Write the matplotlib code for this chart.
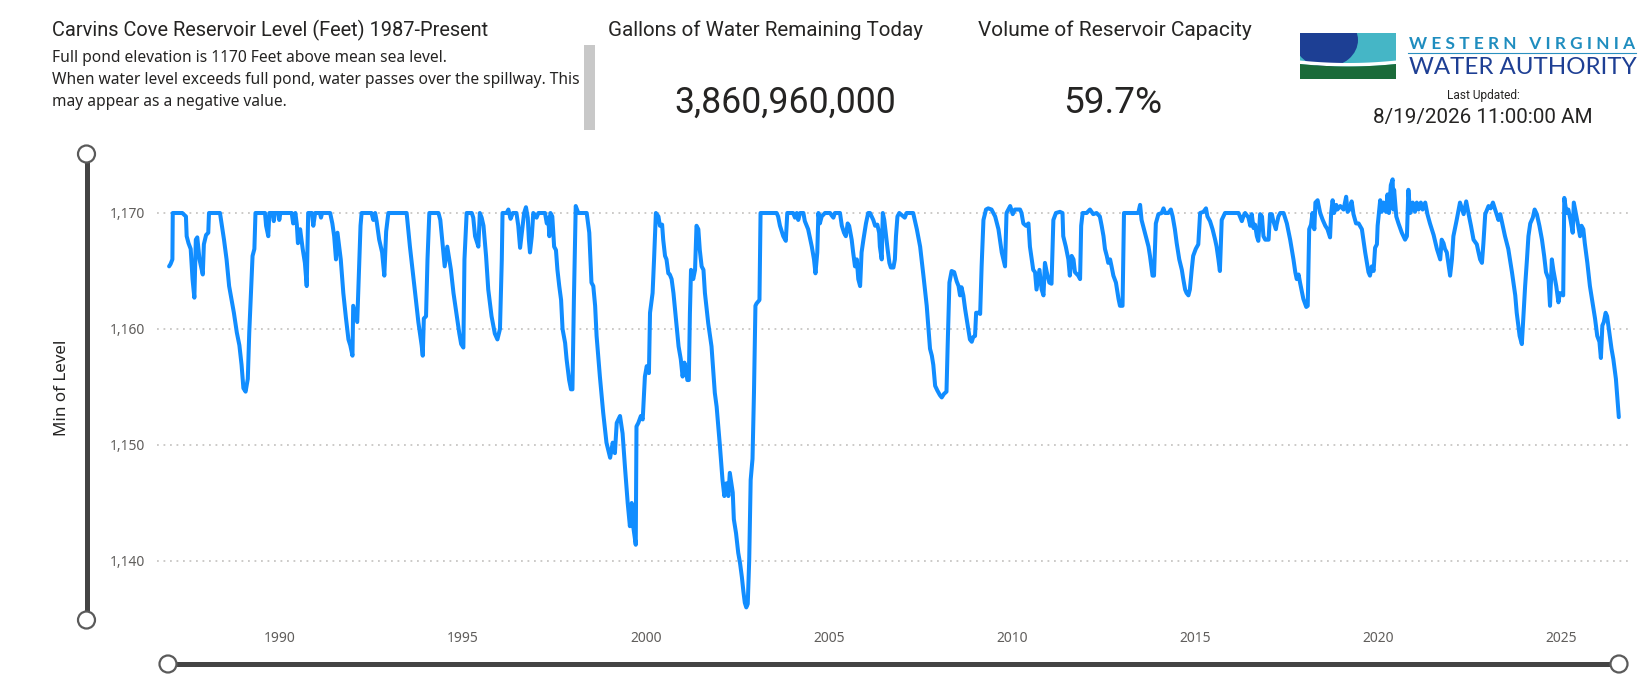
import matplotlib
matplotlib.use("Agg")
import matplotlib.pyplot as plt
from matplotlib import font_manager as fm
from matplotlib.patches import Circle, Rectangle, Polygon, Ellipse
import numpy as np

# ---------------- data ----------------
years = [
    1986.97, 1987.01, 1987.06, 1987.07, 1987.33, 1987.43, 1987.45, 1987.50, 1987.56, 1987.61,
    1987.66, 1987.70, 1987.74, 1987.80, 1987.89, 1987.92, 1987.98, 1988.04, 1988.06, 1988.36,
    1988.47, 1988.54, 1988.61, 1988.74, 1988.82, 1988.89, 1988.95, 1989.00, 1989.06, 1989.12,
    1989.16, 1989.21, 1989.25, 1989.30, 1989.33, 1989.59, 1989.62, 1989.68, 1989.71, 1989.80,
    1989.83, 1989.86, 1989.96, 1989.98, 1990.01, 1990.32, 1990.36, 1990.42, 1990.46, 1990.49,
    1990.55, 1990.62, 1990.68, 1990.73, 1990.77, 1990.87, 1990.91, 1990.96, 1991.09, 1991.12,
    1991.15, 1991.37, 1991.43, 1991.48, 1991.53, 1991.57, 1991.66, 1991.73, 1991.80, 1991.87,
    1991.92, 1991.98, 1992.00, 1992.11, 1992.16, 1992.20, 1992.23, 1992.50, 1992.55, 1992.60,
    1992.64, 1992.71, 1992.79, 1992.85, 1992.90, 1992.96, 1993.46, 1993.55, 1993.64, 1993.71,
    1993.78, 1993.87, 1993.90, 1993.93, 1993.99, 1994.03, 1994.08, 1994.33, 1994.38, 1994.43,
    1994.50, 1994.57, 1994.67, 1994.74, 1994.83, 1994.90, 1994.95, 1995.01, 1995.04, 1995.10,
    1995.24, 1995.28, 1995.33, 1995.42, 1995.46, 1995.51, 1995.56, 1995.63, 1995.69, 1995.78,
    1995.87, 1995.94, 1996.01, 1996.06, 1996.08, 1996.19, 1996.24, 1996.30, 1996.36, 1996.46,
    1996.51, 1996.56, 1996.63, 1996.67, 1996.72, 1996.77, 1996.80, 1996.83, 1996.88, 1996.92,
    1997.01, 1997.06, 1997.24, 1997.29, 1997.33, 1997.36, 1997.39, 1997.44, 1997.49, 1997.54,
    1997.58, 1997.63, 1997.68, 1997.72, 1997.79, 1997.83, 1997.90, 1997.95, 1997.99, 1998.03,
    1998.08, 1998.15, 1998.38, 1998.45, 1998.51, 1998.56, 1998.61, 1998.65, 1998.74, 1998.83,
    1998.92, 1999.02, 1999.09, 1999.15, 1999.20, 1999.29, 1999.36, 1999.43, 1999.50, 1999.56,
    1999.61, 1999.65, 1999.72, 1999.74, 1999.79, 1999.86, 1999.91, 1999.97, 2000.02, 2000.08,
    2000.11, 2000.18, 2000.22, 2000.27, 2000.34, 2000.38, 2000.44, 2000.47, 2000.52, 2000.56,
    2000.61, 2000.65, 2000.70, 2000.75, 2000.82, 2000.89, 2000.95, 2001.00, 2001.05, 2001.09,
    2001.13, 2001.17, 2001.20, 2001.23, 2001.29, 2001.34, 2001.38, 2001.43, 2001.47, 2001.52,
    2001.57, 2001.61, 2001.70, 2001.79, 2001.88, 2001.93, 2002.02, 2002.09, 2002.14, 2002.20,
    2002.25, 2002.29, 2002.37, 2002.40, 2002.46, 2002.52, 2002.57, 2002.62, 2002.66, 2002.70,
    2002.74, 2002.78, 2002.82, 2002.86, 2002.91, 2002.95, 2002.99, 2003.02, 2003.10, 2003.13,
    2003.57, 2003.61,
    2003.66, 2003.75, 2003.82, 2003.86, 2004.02, 2004.07, 2004.12, 2004.16, 2004.21, 2004.30,
    2004.34, 2004.43, 2004.53, 2004.59, 2004.63, 2004.68, 2004.71, 2004.75, 2004.80, 2004.89,
    2005.03, 2005.07, 2005.12, 2005.16, 2005.30, 2005.35, 2005.41, 2005.46, 2005.51, 2005.55,
    2005.62, 2005.66, 2005.71, 2005.76, 2005.80, 2005.85, 2005.89, 2005.94, 2006.01, 2006.07,
    2006.12, 2006.21, 2006.26, 2006.32, 2006.37, 2006.39, 2006.44, 2006.47, 2006.51, 2006.56,
    2006.60, 2006.65, 2006.69, 2006.76, 2006.80, 2006.83, 2006.87, 2006.92, 2007.07, 2007.12,
    2007.30, 2007.40, 2007.49, 2007.58, 2007.67, 2007.76, 2007.81, 2007.85, 2007.90, 2007.96,
    2008.03, 2008.08, 2008.14, 2008.21, 2008.24, 2008.29, 2008.35, 2008.42, 2008.49, 2008.54,
    2008.58, 2008.62, 2008.67, 2008.72, 2008.79, 2008.85, 2008.90, 2008.94, 2008.99, 2009.02,
    2009.08, 2009.13, 2009.17, 2009.22, 2009.29, 2009.35, 2009.44, 2009.54, 2009.63, 2009.72,
    2009.81, 2009.85, 2009.95, 2010.02, 2010.08, 2010.22, 2010.26, 2010.31, 2010.38, 2010.45,
    2010.49, 2010.58, 2010.63, 2010.67, 2010.75, 2010.81, 2010.86, 2010.90, 2010.95, 2011.02,
    2011.08, 2011.13, 2011.20, 2011.31, 2011.38, 2011.40, 2011.47, 2011.54, 2011.58, 2011.63,
    2011.68, 2011.72, 2011.81, 2011.86, 2011.89, 2011.93, 2012.04, 2012.13, 2012.22, 2012.31,
    2012.40, 2012.45, 2012.50, 2012.54, 2012.59, 2012.63, 2012.68, 2012.72, 2012.77, 2012.84,
    2012.91, 2012.95, 2013.02, 2013.06, 2013.45, 2013.50, 2013.54, 2013.63, 2013.73, 2013.77,
    2013.84, 2013.88, 2013.93, 2014.00, 2014.09, 2014.14, 2014.18, 2014.27, 2014.34, 2014.39,
    2014.45, 2014.50, 2014.57, 2014.64, 2014.68, 2014.73, 2014.77, 2014.82, 2014.86, 2014.91,
    2014.95, 2015.02, 2015.09, 2015.14, 2015.23, 2015.30, 2015.34, 2015.41, 2015.48, 2015.55,
    2015.59, 2015.64, 2015.68, 2015.73, 2015.82, 2016.19, 2016.28, 2016.32, 2016.37, 2016.46,
    2016.51, 2016.55, 2016.60, 2016.64, 2016.69, 2016.73, 2016.78, 2016.83, 2016.87, 2016.92,
    2017.01, 2017.05, 2017.10, 2017.14, 2017.21, 2017.23, 2017.28, 2017.33, 2017.42, 2017.51,
    2017.60, 2017.69, 2017.74, 2017.78, 2017.83, 2017.87, 2017.96, 2018.04, 2018.08, 2018.12,
    2018.17, 2018.21, 2018.26, 2018.29, 2018.35, 2018.42, 2018.49, 2018.56, 2018.62, 2018.69,
    2018.72, 2018.76, 2018.80, 2018.86, 2018.89, 2018.97, 2019.06, 2019.13, 2019.17, 2019.22,
    2019.28, 2019.33, 2019.40, 2019.47, 2019.56, 2019.65, 2019.74, 2019.78, 2019.83, 2019.88,
    2019.92, 2019.97, 2019.99, 2020.06, 2020.10, 2020.15, 2020.22, 2020.26, 2020.30, 2020.35,
    2020.40, 2020.42, 2020.44, 2020.50, 2020.56, 2020.65, 2020.74, 2020.79, 2020.83, 2020.88,
    2020.95, 2021.01, 2021.06, 2021.11, 2021.17, 2021.22, 2021.29, 2021.35, 2021.42, 2021.52,
    2021.61, 2021.70, 2021.74, 2021.79, 2021.83, 2021.88, 2021.97, 2022.02, 2022.06, 2022.15,
    2022.24, 2022.34, 2022.41, 2022.47, 2022.54, 2022.61, 2022.70, 2022.74, 2022.79, 2022.84,
    2022.88, 2022.93, 2023.02, 2023.08, 2023.14, 2023.20, 2023.29, 2023.34, 2023.41, 2023.47,
    2023.56, 2023.66, 2023.75, 2023.79, 2023.87, 2023.93, 2023.97, 2024.02, 2024.07, 2024.11,
    2024.16, 2024.23, 2024.28, 2024.34, 2024.41, 2024.48, 2024.54, 2024.59, 2024.66, 2024.70,
    2024.75, 2024.79, 2024.87, 2024.93, 2024.97, 2025.06, 2025.09, 2025.15, 2025.20, 2025.26,
    2025.32, 2025.35, 2025.41, 2025.47, 2025.52, 2025.56, 2025.61, 2025.65, 2025.72, 2025.79,
    2025.86, 2025.93, 2025.99, 2026.05, 2026.09, 2026.13, 2026.17, 2026.22, 2026.26, 2026.32,
    2026.38, 2026.43, 2026.50, 2026.54, 2026.58,
]
levels = [
    1165.4, 1165.6, 1166.0, 1170.0, 1170.0, 1169.7, 1168.0, 1167.4, 1166.9, 1164.3,
    1162.7, 1167.7, 1167.9, 1166.0, 1164.7, 1167.3, 1168.1, 1168.3, 1170.0, 1170.0,
    1167.7, 1166.0, 1163.7, 1161.4, 1159.7, 1158.6, 1156.9, 1154.9, 1154.6, 1155.7,
    1159.7, 1163.4, 1166.3, 1166.9, 1170.0, 1170.0, 1168.9, 1168.0, 1170.0, 1170.0,
    1169.3, 1170.0, 1170.0, 1169.4, 1170.0, 1170.0, 1169.1, 1170.0, 1169.0, 1167.4,
    1168.6, 1166.9, 1165.7, 1163.7, 1170.0, 1170.0, 1168.9, 1170.0, 1170.0, 1169.6,
    1170.0, 1170.0, 1169.1, 1168.0, 1166.0, 1168.3, 1166.0, 1163.1, 1161.0, 1159.1,
    1158.6, 1157.7, 1162.0, 1160.6, 1165.1, 1168.9, 1170.0, 1170.0, 1169.4, 1170.0,
    1169.3, 1167.7, 1166.6, 1164.6, 1168.4, 1170.0, 1170.0, 1167.1, 1164.6, 1162.6,
    1160.6, 1158.6, 1157.7, 1160.9, 1161.1, 1166.0, 1170.0, 1170.0, 1169.4, 1167.7,
    1165.4, 1167.1, 1165.1, 1163.1, 1161.1, 1159.6, 1158.7, 1158.4, 1166.0, 1170.0,
    1170.0, 1169.6, 1168.0, 1167.1, 1170.0, 1169.6, 1168.9, 1166.3, 1163.4, 1161.1,
    1159.6, 1159.1, 1160.0, 1166.0, 1170.0, 1170.0, 1170.3, 1169.5, 1170.0, 1170.0,
    1168.9, 1167.0, 1168.9, 1170.0, 1170.5, 1169.6, 1167.7, 1166.6, 1168.0, 1170.0,
    1169.6, 1170.0, 1170.0, 1169.1, 1169.6, 1168.0, 1170.0, 1169.7, 1167.1, 1166.8,
    1165.1, 1163.7, 1162.5, 1160.0, 1158.8, 1157.4, 1155.6, 1154.8, 1154.8, 1162.5,
    1170.6, 1170.0, 1170.0, 1168.3, 1164.0, 1163.7, 1162.0, 1159.4, 1155.9, 1152.8,
    1150.2, 1148.9, 1150.2, 1149.3, 1151.9, 1152.5, 1151.0, 1147.9, 1145.0, 1143.0,
    1145.0, 1143.0, 1141.4, 1151.6, 1151.9, 1152.5, 1152.2, 1155.9, 1156.8, 1156.2,
    1161.4, 1163.1, 1166.0, 1170.0, 1169.7, 1168.9, 1169.0, 1167.7, 1166.3, 1166.0,
    1164.8, 1164.7, 1164.3, 1163.1, 1160.8, 1158.5, 1157.4, 1155.9, 1157.1, 1156.5,
    1155.6, 1155.6, 1161.4, 1165.1, 1164.3, 1165.1, 1168.9, 1168.6, 1166.8, 1165.4,
    1165.1, 1163.1, 1160.5, 1158.5, 1154.5, 1153.3, 1149.9, 1147.0, 1145.6, 1146.7,
    1145.6, 1147.6, 1145.9, 1143.6, 1142.4, 1140.7, 1139.8, 1138.6, 1137.4, 1136.4,
    1136.0, 1136.3, 1140.1, 1147.0, 1148.8, 1154.5, 1162.0, 1162.2, 1162.5, 1170.0,
    1170.0, 1169.7,
    1168.9, 1168.0, 1167.6, 1170.0, 1170.0, 1169.6, 1170.0, 1169.4, 1170.0, 1170.0,
    1169.3, 1168.6, 1167.1, 1166.0, 1164.8, 1166.6, 1170.0, 1169.1, 1169.7, 1170.0,
    1170.0, 1169.8, 1169.6, 1170.0, 1170.0, 1168.9, 1168.3, 1168.0, 1169.1, 1168.9,
    1167.7, 1166.6, 1165.4, 1166.0, 1164.3, 1163.7, 1166.6, 1167.7, 1169.1, 1170.0,
    1170.0, 1169.4, 1168.9, 1169.0, 1168.3, 1167.1, 1166.0, 1170.0, 1169.4, 1168.0,
    1166.9, 1165.7, 1165.3, 1165.3, 1166.0, 1168.0, 1169.7, 1170.0, 1169.6, 1170.0,
    1170.0, 1168.6, 1167.1, 1164.6, 1162.0, 1158.3, 1157.7, 1156.9, 1155.1, 1154.7,
    1154.3, 1154.1, 1154.4, 1154.6, 1158.3, 1164.0, 1165.0, 1164.9, 1164.1, 1163.7,
    1162.9, 1163.6, 1162.9, 1161.7, 1160.3, 1159.1, 1158.9, 1159.3, 1159.4, 1161.4,
    1161.4, 1161.3, 1165.4, 1169.4, 1170.3, 1170.4, 1170.3, 1169.7, 1168.6, 1166.6,
    1165.4, 1170.0, 1170.6, 1169.9, 1170.3, 1170.3, 1170.0, 1169.1, 1168.9, 1169.1,
    1167.1, 1165.1, 1164.9, 1163.4, 1165.1, 1163.4, 1162.9, 1165.7, 1164.9, 1164.0,
    1163.9, 1169.4, 1170.0, 1170.1, 1170.0, 1168.0, 1167.1, 1166.0, 1164.6, 1166.3,
    1166.0, 1164.9, 1164.6, 1164.3, 1168.9, 1170.0, 1170.0, 1170.3, 1169.9, 1170.0,
    1169.7, 1168.9, 1168.0, 1166.9, 1166.3, 1165.7, 1166.0, 1165.4, 1164.6, 1164.0,
    1162.6, 1162.0, 1162.0, 1170.0, 1170.0, 1170.7, 1169.4, 1168.3, 1167.1, 1166.3,
    1164.6, 1164.6, 1169.1, 1169.9, 1170.0, 1170.4, 1170.0, 1170.0, 1170.3, 1169.7,
    1168.6, 1167.4, 1166.0, 1165.1, 1164.3, 1163.4, 1163.1, 1162.9, 1163.4, 1165.1,
    1166.3, 1166.9, 1167.3, 1170.0, 1170.1, 1170.4, 1169.7, 1169.3, 1168.6, 1167.7,
    1167.1, 1166.0, 1165.0, 1169.4, 1170.0, 1170.0, 1169.3, 1169.7, 1170.0, 1169.6,
    1168.9, 1169.9, 1168.7, 1169.0, 1168.0, 1167.6, 1169.9, 1169.7, 1168.0, 1167.7,
    1167.7, 1169.9, 1169.9, 1169.3, 1168.6, 1169.0, 1169.7, 1170.0, 1170.0, 1169.1,
    1167.7, 1166.0, 1164.9, 1164.3, 1164.7, 1164.0, 1162.6, 1161.9, 1162.0, 1168.6,
    1169.0, 1170.0, 1168.6, 1170.9, 1171.1, 1170.0, 1169.4, 1168.9, 1168.6, 1167.9,
    1170.0, 1171.1, 1170.0, 1170.7, 1170.3, 1170.6, 1170.3, 1171.4, 1170.1, 1170.3,
    1171.0, 1169.9, 1169.1, 1169.1, 1168.6, 1166.6, 1164.9, 1164.6, 1165.4, 1165.0,
    1167.0, 1167.3, 1168.9, 1171.1, 1170.1, 1170.9, 1170.1, 1171.6, 1170.0, 1172.4,
    1172.9, 1170.3, 1172.0, 1169.7, 1169.1, 1168.3, 1167.7, 1168.0, 1172.0, 1170.0,
    1170.9, 1170.1, 1170.9, 1170.3, 1170.9, 1170.3, 1170.9, 1169.9, 1169.1, 1168.1,
    1166.9, 1166.0, 1167.7, 1167.4, 1166.9, 1166.6, 1164.6, 1166.0, 1168.0, 1169.4,
    1170.9, 1169.9, 1171.0, 1170.0, 1168.9, 1167.7, 1167.3, 1166.7, 1166.0, 1165.7,
    1167.4, 1169.9, 1170.6, 1170.4, 1170.9, 1170.3, 1169.4, 1169.9, 1168.9, 1168.0,
    1166.9, 1164.9, 1162.9, 1161.4, 1159.4, 1158.7, 1160.9, 1163.7, 1166.0, 1168.0,
    1169.1, 1169.6, 1170.3, 1169.9, 1168.9, 1167.7, 1166.3, 1164.9, 1164.3, 1162.0,
    1166.0, 1165.1, 1163.7, 1162.3, 1163.1, 1162.9, 1171.3, 1170.0, 1170.3, 1169.4,
    1168.3, 1170.9, 1169.9, 1168.9, 1168.0, 1168.9, 1168.6, 1167.4, 1165.7, 1163.7,
    1162.3, 1160.9, 1159.4, 1158.9, 1157.5, 1160.3, 1160.6, 1161.4, 1161.1, 1159.7,
    1158.3, 1157.4, 1155.7, 1154.0, 1152.4,
]

x_ticks = [1990, 1995, 2000, 2005, 2010, 2015, 2020, 2025]
x_tick_labels = ["1990", "1995", "2000", "2005", "2010", "2015", "2020", "2025"]
y_ticks = [1140, 1150, 1160, 1170]
y_tick_labels = ["1,140", "1,150", "1,160", "1,170"]

title_text = "Carvins Cove Reservoir Level (Feet) 1987-Present"
desc_lines = [
    "Full pond elevation is 1170 Feet above mean sea level.",
    "When water level exceeds full pond, water passes over the spillway. This",
    "may appear as a negative value.",
]
card1_title = "Gallons of Water Remaining Today"
card1_value = "3,860,960,000"
card2_title = "Volume of Reservoir Capacity"
card2_value = "59.7%"
logo_top = "W E S T E R N   V I R G I N I A"
logo_main = "WATER AUTHORITY"
updated_label = "Last Updated:"
updated_value = "8/19/2026 11:00:00 AM"
y_axis_title = "Min of Level"

# ---------------- fonts ----------------
names = {f.name for f in fm.fontManager.ttflist}
def pick(options):
    for o in options:
        if o in names:
            return o
    return "DejaVu Sans"
HEAD = pick(["Roboto", "Open Sans", "DejaVu Sans"])
BODY = pick(["Noto Sans", "Open Sans", "DejaVu Sans"])
LOGO = pick(["Lato", "Roboto", "DejaVu Sans"])

DARK = "#252423"
GRAY = "#605E5C"

W, H = 1645, 692
fig = plt.figure(figsize=(W / 100, H / 100), dpi=100)
fig.patch.set_facecolor("white")
renderer = fig.canvas.get_renderer()

# ---------------- main chart ----------------
# pixel mapping: x_px = 280 + (year-1990)*36.6 ; y_px = 213 + (1170-level)*11.6
xmin, xmax = 1986.65, 2026.9
ymin, ymax = 1135.0, 1174.0
left_px = 280 + (xmin - 1990) * 36.6
right_px = 280 + (xmax - 1990) * 36.6
top_px = 213 + (1170 - ymax) * 11.6
bot_px = 213 + (1170 - ymin) * 11.6
ax = fig.add_axes([left_px / W, 1 - bot_px / H, (right_px - left_px) / W, (bot_px - top_px) / H])
ax.plot(years, levels, color="#118DFF", lw=2.9, solid_joinstyle="round", solid_capstyle="round", zorder=3)
ax.set_xlim(xmin, xmax)
ax.set_ylim(ymin, ymax)
for s in ax.spines.values():
    s.set_visible(False)
ax.set_yticks(y_ticks)
ax.set_yticklabels(y_tick_labels)
ax.set_xticks(x_ticks)
ax.set_xticklabels(x_tick_labels)
ax.tick_params(axis="both", length=0, colors=GRAY, labelsize=10)
ax.tick_params(axis="y", pad=9)
ax.tick_params(axis="x", pad=9)
for lab in ax.get_xticklabels() + ax.get_yticklabels():
    lab.set_fontfamily(BODY)
    lab.set_color(GRAY)
    lab.set_fontsize(10)
ax.yaxis.grid(True, color="#C8C6C4", linestyle=(0, (1, 2.6)), linewidth=1.3, zorder=0)
ax.set_axisbelow(True)

# ---------------- overlay in pixel coordinates ----------------
ov = fig.add_axes([0, 0, 1, 1], zorder=5)
ov.set_xlim(0, W)
ov.set_ylim(H, 0)
ov.axis("off")

def fit(x, y, s, width=None, height=None, **kw):
    t = ov.text(x, y, s, **kw)
    bb = t.get_window_extent(renderer=renderer)
    if width is not None:
        t.set_fontsize(t.get_fontsize() * width / bb.width)
    elif height is not None:
        t.set_fontsize(t.get_fontsize() * height / bb.height)
    return t

# header texts
fit(52, 30, title_text, width=436, ha="left", va="center", family=HEAD, color=DARK, fontsize=13)
t2 = fit(52, 80, desc_lines[1], width=528, ha="left", va="center", family=BODY, color=DARK, fontsize=10.5)
dfs = t2.get_fontsize()
ov.text(52, 58, desc_lines[0], ha="left", va="center", family=BODY, color=DARK, fontsize=dfs)
ov.text(52, 102, desc_lines[2], ha="left", va="center", family=BODY, color=DARK, fontsize=dfs)
ov.add_patch(Rectangle((584, 45), 11, 85, facecolor="#C8C8C8", edgecolor="none"))

fit(766, 30, card1_title, width=315, ha="center", va="center", family=HEAD, color=DARK, fontsize=13)
v1 = fit(785, 103, card1_value, width=221, ha="center", va="center", family=HEAD, color=DARK, fontsize=26)
fit(978, 30, card2_title, width=273, ha="left", va="center", family=HEAD, color=DARK, fontsize=13)
ov.text(1113, 103, card2_value, ha="center", va="center", family=HEAD, color=DARK,
        fontsize=v1.get_fontsize() * 1.04)

# logo graphic
lx0, lx1, ly0, ly1 = 1300, 1396, 33, 79
clip = Rectangle((lx0, ly0), lx1 - lx0, ly1 - ly0, transform=ov.transData, facecolor="none", edgecolor="none")
ov.add_patch(Rectangle((lx0, ly0), lx1 - lx0, ly1 - ly0, facecolor="#45B6C6", edgecolor="none"))
blue = Ellipse((1326, 40), 64, 54, facecolor="#1D3F94", edgecolor="none")
ov.add_patch(blue)
blue.set_clip_path(clip)
xs = np.linspace(lx0, lx1, 60)
tt = (xs - lx0) / (lx1 - lx0)
ycurve = 62 + 10 * tt * (1 - tt)
white = Polygon(np.column_stack([np.r_[xs, xs[::-1]], np.r_[ycurve - 1.5, ycurve[::-1] + 2.0]]),
                facecolor="white", edgecolor="none")
ov.add_patch(white)
green = Polygon(np.column_stack([np.r_[xs, lx1, lx0], np.r_[ycurve + 2.0, ly1, ly1]]),
                facecolor="#1B6B3A", edgecolor="none")
ov.add_patch(green)

fit(1409, 44, logo_top, width=227, ha="left", va="center", family=LOGO, color="#1F8DBF",
    fontsize=8, fontweight="bold")
ov.plot([1408, 1636], [52.5, 52.5], color="#2A90C0", lw=0.8)
fit(1409, 67, logo_main, width=226, ha="left", va="center", family=LOGO, color="#1E3F94", fontsize=18)
fit(1483, 96, updated_label, width=73, ha="center", va="center", family=HEAD, color=DARK, fontsize=8)
fit(1483, 118, updated_value, width=221, ha="center", va="center", family=HEAD, color=DARK, fontsize=14)

# y axis title
fit(62, 388, y_axis_title, height=97, ha="center", va="center", rotation=90, family=BODY, color=DARK, fontsize=11)

# slicers
SL = "#444444"
ov.plot([86.5, 86.5], [154, 620], color=SL, lw=3.6, solid_capstyle="butt", zorder=1)
ov.plot([168, 1619], [664, 664], color=SL, lw=3.6, solid_capstyle="butt", zorder=1)
for (cx, cy) in [(86.5, 154), (86.5, 620), (168, 664), (1619, 664)]:
    ov.add_patch(Circle((cx, cy), 8.5, facecolor="white", edgecolor="#5A5A5A", lw=1.6, zorder=2))

fig.savefig("out.png", dpi=100, facecolor="white")
